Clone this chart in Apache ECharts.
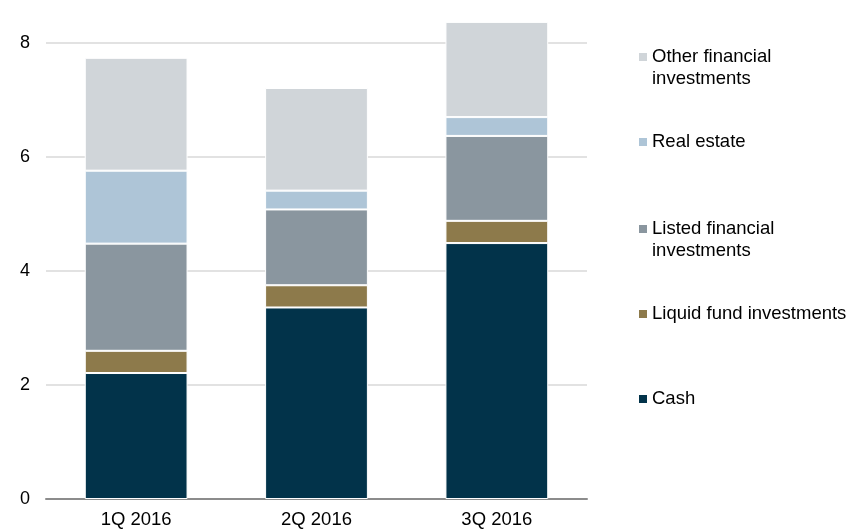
<!DOCTYPE html>
<html>
<head>
<meta charset="utf-8">
<script src="https://cdn.jsdelivr.net/npm/echarts@6/dist/echarts.min.js"></script>
<style>
  html, body { margin: 0; padding: 0; background: #fff; }
  #main { width: 849px; height: 530px; }
</style>
</head>
<body>
<div id="main"></div>
<script>
// data
const quarters = ['1Q 2016', '2Q 2016', '3Q 2016'];
const cash = [2.21, 3.36, 4.49];
const liquidFund = [0.39, 0.39, 0.39];
const listedFinancial = [1.88, 1.33, 1.49];
const realEstate = [1.28, 0.33, 0.33];
const otherFinancial = [1.98, 1.80, 1.67];
const yTicks = [0, 2, 4, 6, 8];

const font = "'Liberation Sans', Arial, sans-serif";

let myChart = echarts.init(document.getElementById('main'));

function bar(name, data, color) {
  return {
    name: name,
    type: 'bar',
    stack: 'total',
    data: data,
    barWidth: '57%',
    clip: false,
    itemStyle: { color: color, borderColor: '#fff', borderWidth: 1 }
  };
}

// one legend per entry so each can sit at its own height;
// two-line entries get a tall icon box with the square at its top,
// so the square lines up with the first text line
function legendItem(name, top, twoLines) {
  return {
    data: [name],
    left: 639,
    top: top,
    padding: 0,
    orient: 'vertical',
    icon: twoLines ? 'path://M0,0h8v8h-8z M0,30h0.01' : 'rect',
    itemWidth: 8,
    itemHeight: twoLines ? 30 : 8,
    selectedMode: false,
    itemStyle: { borderWidth: 0 },
    formatter: function (n) {
      return twoLines ? n.replace(/ investments$/, '\ninvestments') : n;
    },
    textStyle: {
      fontFamily: font,
      fontSize: 18.5,
      color: '#000',
      lineHeight: 22
    }
  };
}

myChart.setOption({
  animation: false,
  grid: { left: 46, right: 262, top: 43, bottom: 31 },
  legend: [
    legendItem('Other financial investments', 46, true),
    legendItem('Real estate', 131, false),
    legendItem('Listed financial investments', 218, true),
    legendItem('Liquid fund investments', 303, false),
    legendItem('Cash', 388, false)
  ],
  xAxis: {
    type: 'category',
    data: quarters,
    axisLine: { lineStyle: { color: '#8c8c8c', width: 2 } },
    axisTick: { show: false },
    axisLabel: { fontFamily: font, fontSize: 18.5, color: '#000', margin: 11 }
  },
  yAxis: {
    type: 'value',
    min: yTicks[0],
    max: yTicks[yTicks.length - 1],
    interval: 2,
    axisLine: { show: false },
    axisTick: { show: false },
    splitLine: { lineStyle: { color: '#d9d9d9', width: 1.5 } },
    axisLabel: { fontFamily: font, fontSize: 18, color: '#000', margin: 16 }
  },
  series: [
    bar('Cash', cash, '#02334a'),
    bar('Liquid fund investments', liquidFund, '#8d7a4b'),
    bar('Listed financial investments', listedFinancial, '#8a969f'),
    bar('Real estate', realEstate, '#aec5d7'),
    bar('Other financial investments', otherFinancial, '#d0d5d9')
  ]
});
window.onresize = myChart.resize;
</script>
</body>
</html>
